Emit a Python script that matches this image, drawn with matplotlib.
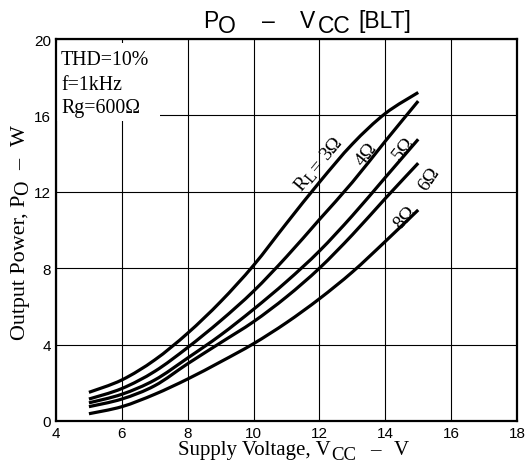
import matplotlib
matplotlib.use("Agg")
import numpy as np
import matplotlib.pyplot as plt
from matplotlib.path import Path
from matplotlib.patches import PathPatch, Rectangle
from matplotlib.transforms import IdentityTransform
from matplotlib.font_manager import FontProperties

vcc = [5, 6, 7, 8, 9, 10, 11, 12, 13, 14, 15]
po_3ohm = [1.5, 2.15, 3.2, 4.6, 6.25, 8.15, 10.35, 12.5, 14.5, 16.1, 17.2]
po_4ohm = [1.15, 1.7, 2.6, 3.85, 5.25, 6.8, 8.6, 10.55, 12.5, 14.65, 16.75]
po_5ohm = [0.95, 1.4, 2.15, 3.3, 4.5, 5.85, 7.3, 8.9, 10.75, 12.75, 14.75]
po_6ohm = [0.75, 1.15, 1.85, 3.0, 4.1, 5.2, 6.5, 8.0, 9.75, 11.65, 13.5]
po_8ohm = [0.38, 0.75, 1.4, 2.2, 3.1, 4.05, 5.15, 6.4, 7.8, 9.4, 11.05]

x_ticks = [4, 6, 8, 10, 12, 14, 16, 18]
y_ticks = [0, 4, 8, 12, 16, 20]

serif = "Liberation Serif"
sans = "Liberation Sans"

W, H = 525, 464
fig = plt.figure(figsize=(W / 100, H / 100), dpi=100)
ax = fig.add_axes([56 / W, 42 / H, (517 - 56) / W, (422 - 40) / H])


def smooth_path(xs, ys):
    p = np.column_stack([xs, ys]).astype(float)
    n = len(p)
    verts = [p[0]]
    codes = [Path.MOVETO]
    for i in range(n - 1):
        p0 = p[i - 1] if i > 0 else p[i]
        p1, p2 = p[i], p[i + 1]
        p3 = p[i + 2] if i + 2 < n else p[i + 1]
        c1 = p1 + (p2 - p0) / 6.0
        c2 = p2 - (p3 - p1) / 6.0
        verts += [c1, c2, p2]
        codes += [Path.CURVE4] * 3
    return Path(verts, codes)


for ys in [po_3ohm, po_4ohm, po_5ohm, po_6ohm, po_8ohm]:
    ax.add_patch(PathPatch(smooth_path(vcc, ys), fill=False, edgecolor="black",
                           lw=2.3, capstyle="butt", zorder=3))

ax.set_xlim(4, 18)
ax.set_ylim(0, 20)
ax.set_xticks(x_ticks)
ax.set_yticks(y_ticks)
ax.tick_params(length=0, pad=3.5, labelsize=11)
for lab in ax.get_xticklabels() + ax.get_yticklabels():
    lab.set_fontfamily(sans)
ax.grid(True, color="black", lw=0.8)
ax.set_axisbelow(True)
for s in ax.spines.values():
    s.set_linewidth(1.6)
    s.set_zorder(6)

# white box behind condition text
ax.add_patch(Rectangle((0, (422 - 122) / 382), (160 - 56) / 461, (122 - 44) / 382,
                       transform=ax.transAxes, facecolor="white", edgecolor="none",
                       zorder=2))

ident = IdentityTransform()
renderer = fig.canvas.get_renderer()


def put(x, y_from_top, s, family, size, **kw):
    fig.text(x, H - y_from_top, s, transform=ident, fontfamily=family,
             fontsize=size, va="baseline", ha="left", **kw)


def measure(parts, size, family):
    px = size * 100 / 72
    widths = []
    for s, gap, drop, sc in parts:
        fp = FontProperties(family=family, size=size * sc)
        w, h, dsc = renderer.get_text_width_height_descent(s, fp, ismath=False)
        widths.append(w)
    total = sum(widths) + sum(p[1] for p in parts) * px
    return widths, total


def chain(start, parts, size, angle, family=serif, target=None, center=False, zorder=8):
    """parts: (text, gap_em, drop_em, scale). start in display px."""
    widths, total = measure(parts, size, family)
    if target is not None:
        size = size * target / total
        widths, total = measure(parts, size, family)
    px = size * 100 / 72
    th = np.deg2rad(angle)
    u = np.array([np.cos(th), np.sin(th)])
    d = np.array([np.sin(th), -np.cos(th)])
    st = np.array(start, dtype=float)
    if center:
        st = st - u * total / 2 + d * px * 0.66 / 2
    cur = 0.0
    for (s, gap, drop, sc), w in zip(parts, widths):
        cur += gap * px
        pos = st + u * cur + d * drop * px
        fig.text(pos[0], pos[1], s, transform=ident, fontfamily=family,
                 fontsize=size * sc, rotation=angle, rotation_mode="anchor",
                 ha="left", va="baseline", zorder=zorder)
        cur += w


# condition text
for txt, base in [("THD=10%", 65), ("f=1kHz", 90), ("Rg=600Ω", 113)]:
    put(61, base, txt, serif, 14.3, zorder=7)

# title
tsz = 16.5
put(203, 28, "P", sans, tsz)
put(218, 33, "O", sans, tsz)
put(262, 28, "–", sans, tsz)
put(300, 28, "V", sans, tsz)
put(318, 33, "CC", sans, tsz)
put(358, 28, "[BLT]", sans, tsz)

# x label
chain((178, H - 455), [("Supply Voltage, V", 0, 0, 1), ("CC", 0, 0.22, 0.9),
                       ("–", 0.7, 0, 1), ("V", 0.6, 0, 1)],
      14.8, 0, target=229)

# y label
chain((25, H - 340), [("Output Power, P", 0, 0, 1), ("O", 0, 0.15, 0.9),
                      ("–", 0.45, 0, 1), ("W", 0.6, 0, 1)],
      14.8, 90, target=215)

# curve labels
csz = 14


def clabel(xd, yd, parts, angle):
    c = ax.transData.transform((xd, yd))
    chain(c, parts, csz, angle, center=True)


clabel(11.93, 13.56, [("R", 0, 0, 1), ("L", 0, 0.15, 0.85), ("=", 0, 0, 1), ("3Ω", 0.3, 0, 1)], 50)
clabel(13.38, 14.08, [("4Ω", 0, 0, 1)], 52)
clabel(14.51, 14.35, [("5Ω", 0, 0, 1)], 52)
clabel(15.27, 12.77, [("6Ω", 0, 0, 1)], 56)
clabel(14.57, 10.73, [("8Ω", 0, 0, 1)], 48)

fig.savefig("out.png", dpi=100)
